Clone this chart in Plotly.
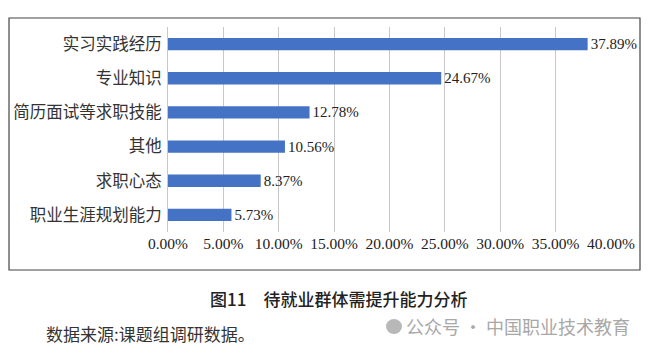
import plotly.graph_objects as go

categories = ["实习实践经历", "专业知识", "简历面试等求职技能", "其他", "求职心态", "职业生涯规划能力"]
values = [37.89, 24.67, 12.78, 10.56, 8.37, 5.73]
tick_vals = [0, 5, 10, 15, 20, 25, 30, 35, 40]
tick_labels = ["0.00%", "5.00%", "10.00%", "15.00%", "20.00%", "25.00%", "30.00%", "35.00%", "40.00%"]
title_text = "图11　待就业群体需提升能力分析"
source_text = "数据来源:课题组调研数据。"
watermark_text = "公众号 · 中国职业技术教育"

W, H = 654, 355
L, R, T, B = 168, 43, 27, 123
pw, ph = W - L - R, H - T - B

def px(x):
    return (x - L) / pw

def py(y):
    return (H - B - y) / ph

serif = "Liberation Serif, Times New Roman, serif"
cjk = "Noto Sans CJK SC, sans-serif"

fig = go.Figure(go.Bar(
    x=values, y=categories, orientation="h",
    marker=dict(color="#4472C4", line=dict(width=0)),
    text=[f"{v:.2f}%" for v in values], textposition="outside",
    textfont=dict(family=serif, size=15, color="#222"),
    constraintext="none",
    cliponaxis=False, width=0.36,
))

fig.update_layout(
    width=W, height=H, margin=dict(l=L, r=R, t=T, b=B),
    paper_bgcolor="white", plot_bgcolor="white", showlegend=False,
    xaxis=dict(range=[0, 40], tickvals=tick_vals, ticktext=tick_labels,
               showgrid=True, gridcolor="#c8c8c8", gridwidth=1, zeroline=False,
               showline=False, ticks="", tickfont=dict(family=serif, size=15.5, color="#222")),
    yaxis=dict(autorange="reversed", showgrid=False, zeroline=False, showline=True,
               linecolor="#c8c8c8", linewidth=1, ticks="", ticklabelstandoff=2,
               tickfont=dict(family=cjk, size=16.5, color="#333"), fixedrange=True),
)

fig.add_shape(type="rect", xref="paper", yref="paper",
              x0=px(9), x1=px(640), y0=py(270), y1=py(18),
              line=dict(color="#444", width=1.2), fillcolor="rgba(0,0,0,0)")

fig.add_annotation(text=title_text, xref="paper", yref="paper", x=px(338), y=py(298),
                   xanchor="center", yanchor="middle", showarrow=False,
                   font=dict(family=cjk, size=17, color="#222", weight=500))
fig.add_annotation(text=source_text, xref="paper", yref="paper", x=px(44), y=py(333),
                   xanchor="left", yanchor="middle", showarrow=False,
                   font=dict(family=cjk, size=17, color="#333"))
fig.add_annotation(text=watermark_text, xref="paper", yref="paper", x=px(632), y=py(326),
                   xanchor="right", yanchor="middle", showarrow=False,
                   font=dict(family=cjk, size=18, color="#a8a8a8"))
fig.add_shape(type="circle", xref="paper", yref="paper",
              x0=px(386), x1=px(402), y0=py(334), y1=py(319),
              line=dict(width=0), fillcolor="#b8b8b8")

fig.write_html("out.html")
